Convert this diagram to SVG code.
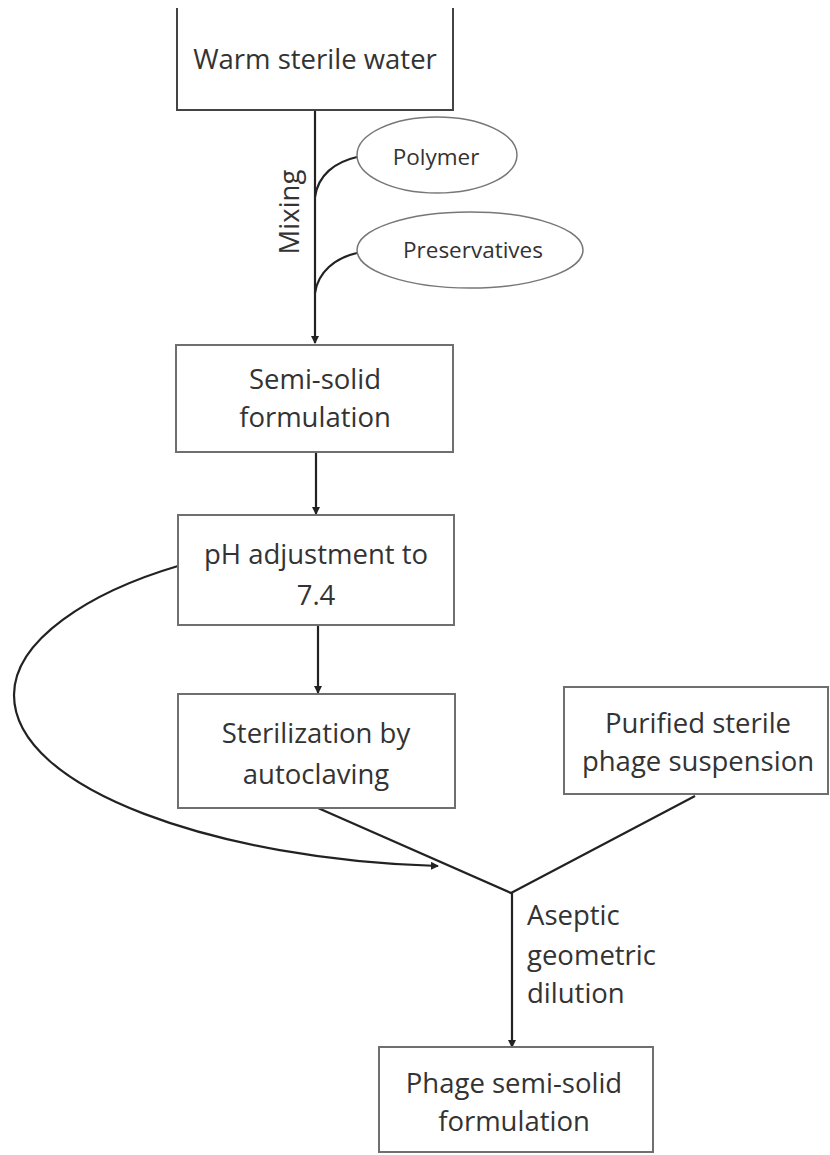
<svg xmlns="http://www.w3.org/2000/svg" width="830" height="1155" viewBox="0 0 830 1155">
<style>
.box{fill:#fff;stroke:#6f6f6f;stroke-width:2}
.ell{fill:#fff;stroke:#777;stroke-width:1.5}
.t{font-family:"Open Sans","Liberation Sans",sans-serif;font-size:27.5px;fill:#333;text-anchor:middle}
.s{font-family:"Open Sans","Liberation Sans",sans-serif;font-size:22.5px;fill:#333;text-anchor:middle}
.c{fill:none;stroke:#222;stroke-width:2.2}
</style>
<defs>
<marker id="ah" markerWidth="8" markerHeight="8" refX="7" refY="4" orient="auto" markerUnits="userSpaceOnUse">
<path d="M0,0 L8,4 L0,8 Z" fill="#222"/>
</marker>
</defs>
<rect width="830" height="1155" fill="#fff"/>
<g id="connectors">
<path class="c" d="M315,110 V343" marker-end="url(#ah)"/>
<path class="c" d="M357,157 C335,162 318,175 315,197"/>
<path class="c" d="M357,253 C335,258 318,272 315,293"/>
<path class="c" d="M316,452 V514" marker-end="url(#ah)"/>
<path class="c" d="M318,625 V693" marker-end="url(#ah)"/>
<path class="c" d="M178,566 C90,592 14,640 14,695 C14,790 220,860 438,866" marker-end="url(#ah)"/>
<path class="c" d="M318,808 L511,893 L695,796" stroke-width="1.8"/>
<path class="c" d="M512,893 V1047" stroke-width="3" marker-end="url(#ah)"/>
<text x="299" y="212" class="t" transform="rotate(-90 299 212)">Mixing</text>
<text x="527" y="925" class="t" style="text-anchor:start">Aseptic</text>
<text x="527" y="965" class="t" style="text-anchor:start">geometric</text>
<text x="527" y="1003" class="t" style="text-anchor:start">dilution</text>
</g>
<g id="warm-water">
<path d="M177,8 V110 H453 V8" fill="#fff" stroke="#444" stroke-width="2"/>
<text x="315" y="69" class="t">Warm sterile water</text>
</g>
<g id="polymer">
<ellipse class="ell" cx="437" cy="155" rx="80" ry="38"/>
<text x="436" y="165" class="s">Polymer</text>
</g>
<g id="preservatives">
<ellipse class="ell" cx="470" cy="250" rx="113" ry="38"/>
<text x="473" y="258" class="s">Preservatives</text>
</g>
<g id="semi-solid">
<rect class="box" x="176" y="345" width="277" height="107"/>
<text x="315" y="389" class="t">Semi-solid</text>
<text x="315" y="427" class="t">formulation</text>
</g>
<g id="ph">
<rect class="box" x="178" y="515" width="276" height="110"/>
<text x="316" y="564" class="t">pH adjustment to</text>
<text x="316" y="605" class="t">7.4</text>
</g>
<g id="sterilization">
<rect class="box" x="178" y="694" width="277" height="114"/>
<text x="316" y="743" class="t">Sterilization by</text>
<text x="316" y="784" class="t">autoclaving</text>
</g>
<g id="purified">
<rect class="box" x="564" y="687" width="264" height="107"/>
<text x="698" y="733" class="t">Purified sterile</text>
<text x="698" y="771" class="t">phage suspension</text>
</g>
<g id="phage-formulation">
<rect class="box" x="379" y="1047" width="274" height="105"/>
<text x="514" y="1093" class="t">Phage semi-solid</text>
<text x="514" y="1131" class="t">formulation</text>
</g>
</svg>
